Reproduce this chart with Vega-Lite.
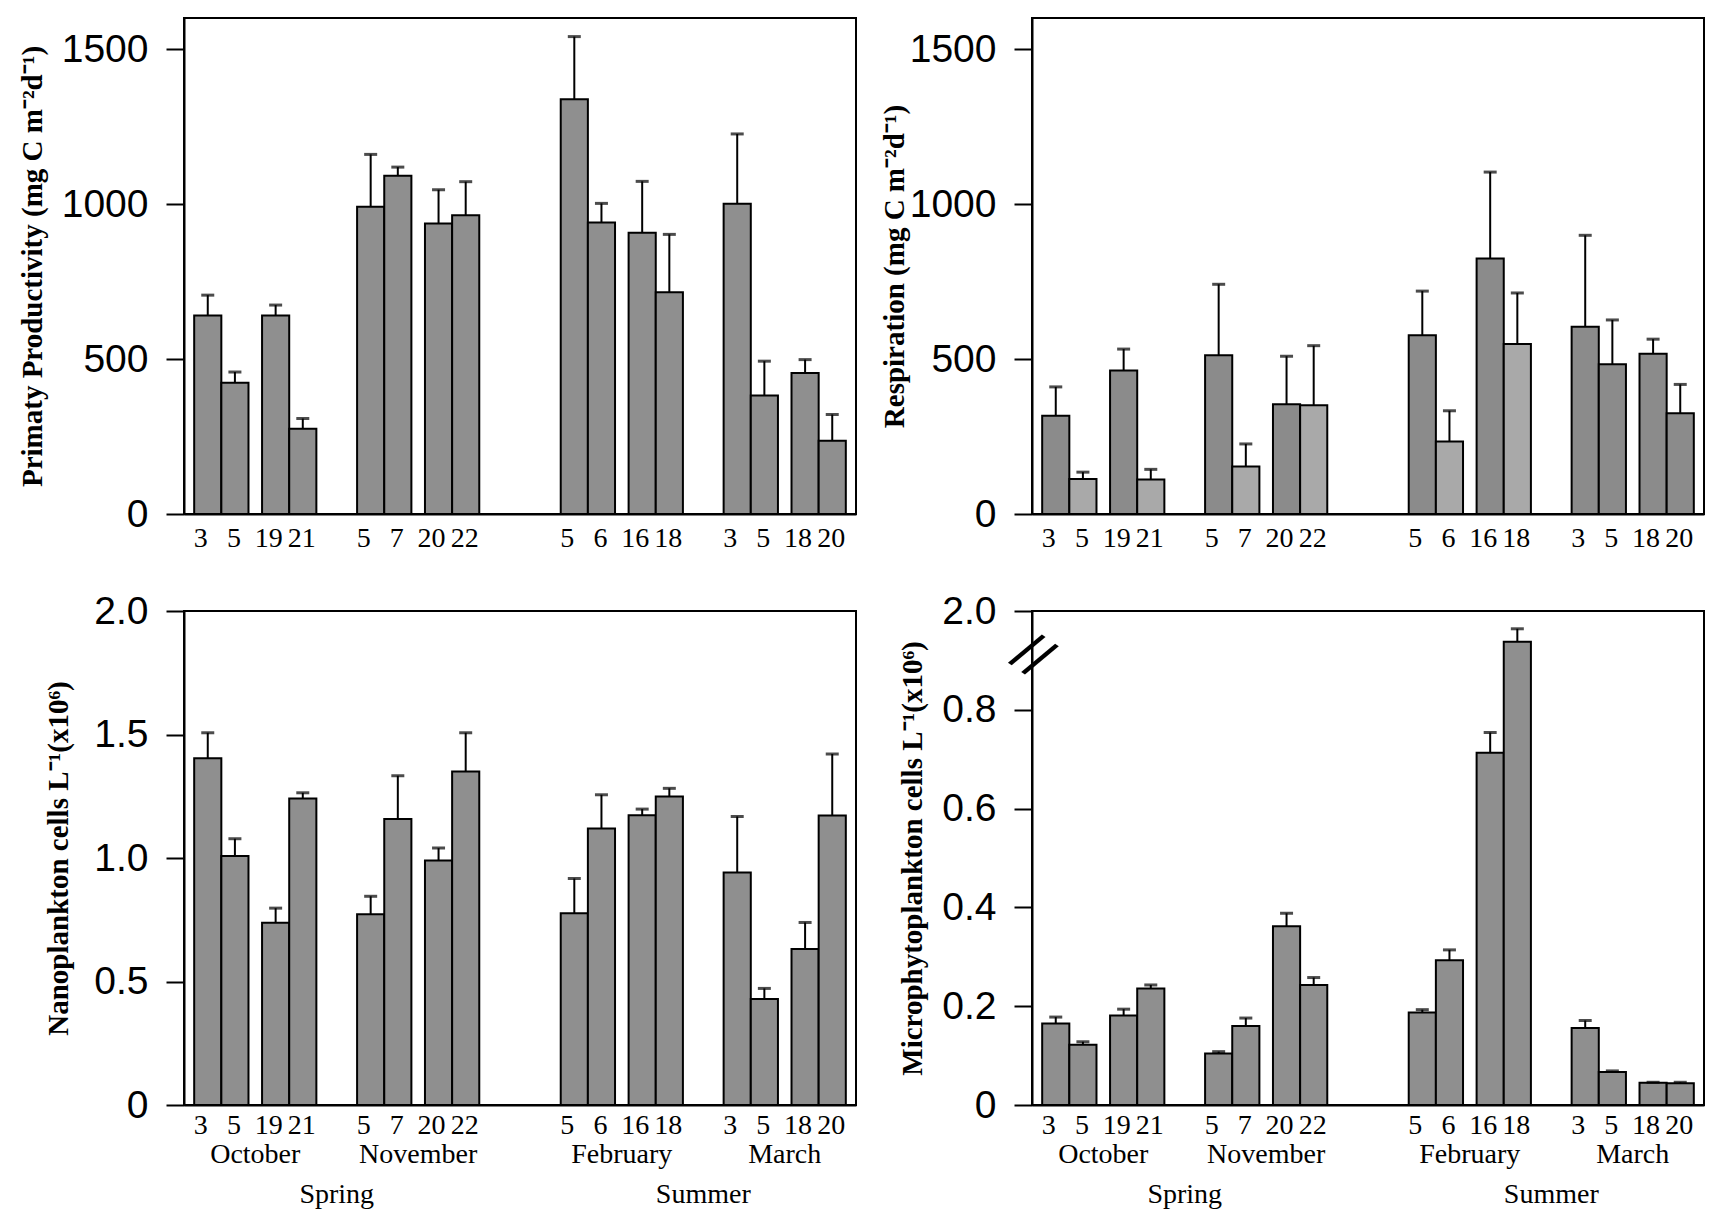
{
  "$schema": "https://vega.github.io/schema/vega-lite/v6.json",
  "padding": {"left": 17, "top": 17, "right": 5, "bottom": 2},
  "background": "white",
  "datasets": {
    "bars": [
      {"panel": "pp", "season": "Spring", "month": "October", "day": 3, "mean": 640, "upper": 706},
      {"panel": "pp", "season": "Spring", "month": "October", "day": 5, "mean": 423, "upper": 458},
      {"panel": "pp", "season": "Spring", "month": "October", "day": 19, "mean": 640, "upper": 674},
      {"panel": "pp", "season": "Spring", "month": "October", "day": 21, "mean": 275, "upper": 308},
      {"panel": "pp", "season": "Spring", "month": "November", "day": 5, "mean": 991, "upper": 1160},
      {"panel": "pp", "season": "Spring", "month": "November", "day": 7, "mean": 1091, "upper": 1119},
      {"panel": "pp", "season": "Spring", "month": "November", "day": 20, "mean": 937, "upper": 1046},
      {"panel": "pp", "season": "Spring", "month": "November", "day": 22, "mean": 964, "upper": 1072},
      {"panel": "pp", "season": "Summer", "month": "February", "day": 5, "mean": 1338, "upper": 1540},
      {"panel": "pp", "season": "Summer", "month": "February", "day": 6, "mean": 940, "upper": 1002},
      {"panel": "pp", "season": "Summer", "month": "February", "day": 16, "mean": 907, "upper": 1073},
      {"panel": "pp", "season": "Summer", "month": "February", "day": 18, "mean": 715, "upper": 902},
      {"panel": "pp", "season": "Summer", "month": "March", "day": 3, "mean": 1001, "upper": 1226},
      {"panel": "pp", "season": "Summer", "month": "March", "day": 5, "mean": 382, "upper": 493},
      {"panel": "pp", "season": "Summer", "month": "March", "day": 18, "mean": 455, "upper": 498},
      {"panel": "pp", "season": "Summer", "month": "March", "day": 20, "mean": 236, "upper": 321},
      {"panel": "resp", "season": "Spring", "month": "October", "day": 3, "mean": 317, "upper": 410},
      {"panel": "resp", "season": "Spring", "month": "October", "day": 5, "mean": 113, "upper": 135},
      {"panel": "resp", "season": "Spring", "month": "October", "day": 19, "mean": 463, "upper": 532},
      {"panel": "resp", "season": "Spring", "month": "October", "day": 21, "mean": 111, "upper": 144},
      {"panel": "resp", "season": "Spring", "month": "November", "day": 5, "mean": 512, "upper": 741},
      {"panel": "resp", "season": "Spring", "month": "November", "day": 7, "mean": 153, "upper": 226},
      {"panel": "resp", "season": "Spring", "month": "November", "day": 20, "mean": 354, "upper": 509},
      {"panel": "resp", "season": "Spring", "month": "November", "day": 22, "mean": 351, "upper": 543},
      {"panel": "resp", "season": "Summer", "month": "February", "day": 5, "mean": 577, "upper": 719},
      {"panel": "resp", "season": "Summer", "month": "February", "day": 6, "mean": 234, "upper": 333},
      {"panel": "resp", "season": "Summer", "month": "February", "day": 16, "mean": 824, "upper": 1103},
      {"panel": "resp", "season": "Summer", "month": "February", "day": 18, "mean": 548, "upper": 713},
      {"panel": "resp", "season": "Summer", "month": "March", "day": 3, "mean": 604, "upper": 899},
      {"panel": "resp", "season": "Summer", "month": "March", "day": 5, "mean": 483, "upper": 626},
      {"panel": "resp", "season": "Summer", "month": "March", "day": 18, "mean": 517, "upper": 564},
      {"panel": "resp", "season": "Summer", "month": "March", "day": 20, "mean": 325, "upper": 418},
      {"panel": "nano", "season": "Spring", "month": "October", "day": 3, "mean": 1.404, "upper": 1.507},
      {"panel": "nano", "season": "Spring", "month": "October", "day": 5, "mean": 1.008, "upper": 1.078},
      {"panel": "nano", "season": "Spring", "month": "October", "day": 19, "mean": 0.738, "upper": 0.797},
      {"panel": "nano", "season": "Spring", "month": "October", "day": 21, "mean": 1.241, "upper": 1.264},
      {"panel": "nano", "season": "Spring", "month": "November", "day": 5, "mean": 0.772, "upper": 0.845},
      {"panel": "nano", "season": "Spring", "month": "November", "day": 7, "mean": 1.158, "upper": 1.333},
      {"panel": "nano", "season": "Spring", "month": "November", "day": 20, "mean": 0.99, "upper": 1.04},
      {"panel": "nano", "season": "Spring", "month": "November", "day": 22, "mean": 1.35, "upper": 1.507},
      {"panel": "nano", "season": "Summer", "month": "February", "day": 5, "mean": 0.776, "upper": 0.917},
      {"panel": "nano", "season": "Summer", "month": "February", "day": 6, "mean": 1.119, "upper": 1.256},
      {"panel": "nano", "season": "Summer", "month": "February", "day": 16, "mean": 1.173, "upper": 1.198},
      {"panel": "nano", "season": "Summer", "month": "February", "day": 18, "mean": 1.249, "upper": 1.282},
      {"panel": "nano", "season": "Summer", "month": "March", "day": 3, "mean": 0.941, "upper": 1.168},
      {"panel": "nano", "season": "Summer", "month": "March", "day": 5, "mean": 0.429, "upper": 0.472},
      {"panel": "nano", "season": "Summer", "month": "March", "day": 18, "mean": 0.632, "upper": 0.739},
      {"panel": "nano", "season": "Summer", "month": "March", "day": 20, "mean": 1.172, "upper": 1.421},
      {"panel": "micro", "season": "Spring", "month": "October", "day": 3, "mean": 0.165, "upper": 0.178},
      {"panel": "micro", "season": "Spring", "month": "October", "day": 5, "mean": 0.122, "upper": 0.128},
      {"panel": "micro", "season": "Spring", "month": "October", "day": 19, "mean": 0.181, "upper": 0.194},
      {"panel": "micro", "season": "Spring", "month": "October", "day": 21, "mean": 0.236, "upper": 0.243},
      {"panel": "micro", "season": "Spring", "month": "November", "day": 5, "mean": 0.104, "upper": 0.108},
      {"panel": "micro", "season": "Spring", "month": "November", "day": 7, "mean": 0.16, "upper": 0.176},
      {"panel": "micro", "season": "Spring", "month": "November", "day": 20, "mean": 0.362, "upper": 0.388},
      {"panel": "micro", "season": "Spring", "month": "November", "day": 22, "mean": 0.243, "upper": 0.258},
      {"panel": "micro", "season": "Summer", "month": "February", "day": 5, "mean": 0.187, "upper": 0.193},
      {"panel": "micro", "season": "Summer", "month": "February", "day": 6, "mean": 0.293, "upper": 0.314},
      {"panel": "micro", "season": "Summer", "month": "February", "day": 16, "mean": 0.713, "upper": 0.754},
      {"panel": "micro", "season": "Summer", "month": "February", "day": 18, "mean": 0.938, "upper": 0.964},
      {"panel": "micro", "season": "Summer", "month": "March", "day": 3, "mean": 0.156, "upper": 0.171},
      {"panel": "micro", "season": "Summer", "month": "March", "day": 5, "mean": 0.067, "upper": 0.069},
      {"panel": "micro", "season": "Summer", "month": "March", "day": 18, "mean": 0.045, "upper": 0.046},
      {"panel": "micro", "season": "Summer", "month": "March", "day": 20, "mean": 0.044, "upper": 0.046}
    ]
  },
  "data": {"name": "bars"},
  "columns": 2,
  "spacing": {"row": 38, "column": 22},
  "concat": [
    {
      "width": 672,
      "height": 496,
      "transform": [
        {"filter": "datum.panel == 'pp'"},
        {"calculate": "datum.month + ' ' + datum.day", "as": "key"}
      ],
      "encoding": {
        "x": {
          "field": "key",
          "type": "nominal",
          "title": null,
          "sort": null,
          "scale": {
            "domain": ["_0", "October 3", "_1", "October 5", "_2", "_3", "October 19", "_4", "October 21", "_5", "_6", "_7", "_8", "November 5", "_9", "November 7", "_10", "_11", "November 20", "_12", "November 22", "_13", "_14", "_15", "_16", "_17", "_18", "_19", "February 5", "_20", "February 6", "_21", "_22", "February 16", "_23", "February 18", "_24", "_25", "_26", "_27", "March 3", "_28", "March 5", "_29", "_30", "March 18", "_31", "March 20", "_32"],
            "paddingInner": 0,
            "paddingOuter": 0.25
          },
          "axis": {
            "labelPadding": 10,
            "labelExpr": "indexof(datum.value, '_') == 0 ? '' : split(datum.value, ' ')[1]",
            "labelOffset": {
              "condition": {
                "test": "indexof(['October 3', 'October 19', 'November 5', 'November 20', 'February 5', 'February 16', 'March 3', 'March 18'], datum.value) >= 0",
                "value": -7
              },
              "value": -1
            }
          }
        }
      },
      "layer": [
        {
          "mark": {"type": "bar", "width": {"band": 2}, "stroke": "black", "strokeWidth": 2, "fill": "#8f8f8f"},
          "encoding": {
            "y": {
              "field": "mean",
              "type": "quantitative",
              "scale": {"domain": [0, 1600], "nice": false},
              "title": "Primaty Productivity (mg C m⁻²d⁻¹)",
              "axis": {"values": [0, 500, 1000, 1500], "format": "d", "titlePadding": 14}
            }
          }
        },
        {
          "mark": {"type": "rule", "color": "black", "strokeWidth": 2},
          "encoding": {"y": {"field": "mean", "type": "quantitative"}, "y2": {"field": "upper"}}
        },
        {
          "mark": {"type": "tick", "color": "black", "thickness": 3, "size": 13},
          "encoding": {"y": {"field": "upper", "type": "quantitative"}}
        }
      ]
    },
    {
      "width": 672,
      "height": 496,
      "transform": [
        {"filter": "datum.panel == 'resp'"},
        {"calculate": "datum.month + ' ' + datum.day", "as": "key"}
      ],
      "encoding": {
        "x": {
          "field": "key",
          "type": "nominal",
          "title": null,
          "sort": null,
          "scale": {
            "domain": ["_0", "October 3", "_1", "October 5", "_2", "_3", "October 19", "_4", "October 21", "_5", "_6", "_7", "_8", "November 5", "_9", "November 7", "_10", "_11", "November 20", "_12", "November 22", "_13", "_14", "_15", "_16", "_17", "_18", "_19", "February 5", "_20", "February 6", "_21", "_22", "February 16", "_23", "February 18", "_24", "_25", "_26", "_27", "March 3", "_28", "March 5", "_29", "_30", "March 18", "_31", "March 20", "_32"],
            "paddingInner": 0,
            "paddingOuter": 0.25
          },
          "axis": {
            "labelPadding": 10,
            "labelExpr": "indexof(datum.value, '_') == 0 ? '' : split(datum.value, ' ')[1]",
            "labelOffset": {
              "condition": {
                "test": "indexof(['October 3', 'October 19', 'November 5', 'November 20', 'February 5', 'February 16', 'March 3', 'March 18'], datum.value) >= 0",
                "value": -7
              },
              "value": -1
            }
          }
        }
      },
      "layer": [
        {
          "mark": {"type": "bar", "width": {"band": 2}, "stroke": "black", "strokeWidth": 2},
          "encoding": {
            "y": {
              "field": "mean",
              "type": "quantitative",
              "scale": {"domain": [0, 1600], "nice": false},
              "title": "Respiration (mg C m⁻²d⁻¹)",
              "axis": {"values": [0, 500, 1000, 1500], "format": "d", "titlePadding": 0}
            },
            "fill": {
              "condition": {
                "test": "indexof(['October 5', 'October 21', 'November 7', 'November 22', 'February 6', 'February 18'], datum.key) >= 0",
                "value": "#a9a9a9"
              },
              "value": "#8b8b8b"
            }
          }
        },
        {
          "mark": {"type": "rule", "color": "black", "strokeWidth": 2},
          "encoding": {"y": {"field": "mean", "type": "quantitative"}, "y2": {"field": "upper"}}
        },
        {
          "mark": {"type": "tick", "color": "black", "thickness": 3, "size": 13},
          "encoding": {"y": {"field": "upper", "type": "quantitative"}}
        }
      ]
    },
    {
      "width": 672,
      "height": 494,
      "transform": [
        {"filter": "datum.panel == 'nano'"},
        {"calculate": "datum.month + ' ' + datum.day", "as": "key"}
      ],
      "encoding": {
        "x": {
          "field": "key",
          "type": "nominal",
          "title": null,
          "sort": null,
          "scale": {
            "domain": ["_0", "October 3", "_1", "October 5", "_2", "_3", "October 19", "_4", "October 21", "_5", "_6", "_7", "_8", "November 5", "_9", "November 7", "_10", "_11", "November 20", "_12", "November 22", "_13", "_14", "_15", "_16", "_17", "_18", "_19", "February 5", "_20", "February 6", "_21", "_22", "February 16", "_23", "February 18", "_24", "_25", "_26", "_27", "March 3", "_28", "March 5", "_29", "_30", "March 18", "_31", "March 20", "_32"],
            "paddingInner": 0,
            "paddingOuter": 0.25
          },
          "axis": {
            "labelPadding": 6,
            "labelExpr": "indexof(datum.value, '_') == 0 ? '' : split(datum.value, ' ')[1]",
            "labelOffset": {
              "condition": {
                "test": "indexof(['October 3', 'October 19', 'November 5', 'November 20', 'February 5', 'February 16', 'March 3', 'March 18'], datum.value) >= 0",
                "value": -7
              },
              "value": -1
            }
          }
        }
      },
      "layer": [
        {
          "mark": {"type": "bar", "width": {"band": 2}, "stroke": "black", "strokeWidth": 2, "fill": "#8f8f8f"},
          "encoding": {
            "y": {
              "field": "mean",
              "type": "quantitative",
              "scale": {"domain": [0, 2], "nice": false},
              "title": "Nanoplankton cells L⁻¹(x10⁶)",
              "axis": {
                "values": [0, 0.5, 1, 1.5, 2],
                "labelExpr": "datum.value == 0 ? '0' : format(datum.value, '.1f')",
                "titlePadding": 20
              }
            }
          }
        },
        {
          "mark": {"type": "rule", "color": "black", "strokeWidth": 2},
          "encoding": {"y": {"field": "mean", "type": "quantitative"}, "y2": {"field": "upper"}}
        },
        {
          "mark": {"type": "tick", "color": "black", "thickness": 3, "size": 13},
          "encoding": {"y": {"field": "upper", "type": "quantitative"}}
        },
        {
          "transform": [
            {"window": [{"op": "row_number", "as": "n"}], "groupby": ["month"]},
            {"filter": "datum.n == 2"}
          ],
          "mark": {"type": "text", "font": "Liberation Serif", "fontSize": 28, "baseline": "middle", "align": "center", "dy": 50, "color": "black"},
          "encoding": {
            "x": {"field": "key", "type": "nominal", "bandPosition": 2},
            "y": {"datum": 0, "type": "quantitative"},
            "text": {"field": "month"}
          }
        },
        {
          "transform": [
            {"window": [{"op": "row_number", "as": "n"}], "groupby": ["season"]},
            {"filter": "datum.n == 4"}
          ],
          "mark": {"type": "text", "font": "Liberation Serif", "fontSize": 28, "baseline": "middle", "align": "center", "dy": 90, "color": "black"},
          "encoding": {
            "x": {"field": "key", "type": "nominal", "bandPosition": 3},
            "y": {"datum": 0, "type": "quantitative"},
            "text": {"field": "season"}
          }
        }
      ]
    },
    {
      "width": 672,
      "height": 494,
      "transform": [
        {"filter": "datum.panel == 'micro'"},
        {"calculate": "datum.month + ' ' + datum.day", "as": "key"}
      ],
      "encoding": {
        "x": {
          "field": "key",
          "type": "nominal",
          "title": null,
          "sort": null,
          "scale": {
            "domain": ["_0", "October 3", "_1", "October 5", "_2", "_3", "October 19", "_4", "October 21", "_5", "_6", "_7", "_8", "November 5", "_9", "November 7", "_10", "_11", "November 20", "_12", "November 22", "_13", "_14", "_15", "_16", "_17", "_18", "_19", "February 5", "_20", "February 6", "_21", "_22", "February 16", "_23", "February 18", "_24", "_25", "_26", "_27", "March 3", "_28", "March 5", "_29", "_30", "March 18", "_31", "March 20", "_32"],
            "paddingInner": 0,
            "paddingOuter": 0.25
          },
          "axis": {
            "labelPadding": 6,
            "labelExpr": "indexof(datum.value, '_') == 0 ? '' : split(datum.value, ' ')[1]",
            "labelOffset": {
              "condition": {
                "test": "indexof(['October 3', 'October 19', 'November 5', 'November 20', 'February 5', 'February 16', 'March 3', 'March 18'], datum.value) >= 0",
                "value": -7
              },
              "value": -1
            }
          }
        }
      },
      "layer": [
        {
          "mark": {"type": "bar", "width": {"band": 2}, "stroke": "black", "strokeWidth": 2, "fill": "#8f8f8f"},
          "encoding": {
            "y": {
              "field": "mean",
              "type": "quantitative",
              "scale": {"domain": [0, 1], "nice": false},
              "title": "Microphytoplankton  cells L⁻¹(x10⁶)",
              "axis": {
                "values": [0, 0.2, 0.4, 0.6, 0.8, 1],
                "labelExpr": "datum.value == 0 ? '0' : datum.value == 1 ? '2.0' : format(datum.value, '.1f')",
                "titlePadding": 14
              }
            }
          }
        },
        {
          "mark": {"type": "rule", "color": "black", "strokeWidth": 2},
          "encoding": {"y": {"field": "mean", "type": "quantitative"}, "y2": {"field": "upper"}}
        },
        {
          "mark": {"type": "tick", "color": "black", "thickness": 3, "size": 13},
          "encoding": {"y": {"field": "upper", "type": "quantitative"}}
        },
        {
          "transform": [
            {"window": [{"op": "row_number", "as": "n"}], "groupby": ["month"]},
            {"filter": "datum.n == 2"}
          ],
          "mark": {"type": "text", "font": "Liberation Serif", "fontSize": 28, "baseline": "middle", "align": "center", "dy": 50, "color": "black"},
          "encoding": {
            "x": {"field": "key", "type": "nominal", "bandPosition": 2},
            "y": {"datum": 0, "type": "quantitative"},
            "text": {"field": "month"}
          }
        },
        {
          "transform": [
            {"window": [{"op": "row_number", "as": "n"}], "groupby": ["season"]},
            {"filter": "datum.n == 4"}
          ],
          "mark": {"type": "text", "font": "Liberation Serif", "fontSize": 28, "baseline": "middle", "align": "center", "dy": 90, "color": "black"},
          "encoding": {
            "x": {"field": "key", "type": "nominal", "bandPosition": 3},
            "y": {"datum": 0, "type": "quantitative"},
            "text": {"field": "season"}
          }
        },
        {
          "transform": [{"filter": "datum.month == 'October' && datum.day == 3"}],
          "mark": {"type": "text", "text": "//", "font": "Liberation Sans", "fontSize": 58, "angle": 35, "baseline": "middle", "align": "center", "dx": -5, "color": "black"},
          "encoding": {
            "x": {"datum": "_0", "type": "nominal", "bandPosition": 0},
            "y": {"datum": 0.9, "type": "quantitative"}
          }
        }
      ]
    }
  ],
  "config": {
    "font": "Liberation Serif",
    "view": {"stroke": "black", "strokeWidth": 2},
    "axis": {
      "grid": false,
      "domainColor": "black",
      "domainWidth": 2,
      "tickColor": "black",
      "tickWidth": 2,
      "labelColor": "black",
      "titleColor": "black"
    },
    "axisX": {
      "labelAngle": 0,
      "labelOverlap": false,
      "ticks": false,
      "tickSize": 0,
      "labelFont": "Liberation Serif",
      "labelFontSize": 28
    },
    "axisY": {
      "tickSize": 18,
      "labelPadding": 18,
      "labelFont": "Liberation Sans",
      "labelFontSize": 39,
      "titleFont": "Liberation Serif",
      "titleFontWeight": "bold",
      "titleFontSize": 29
    }
  }
}
